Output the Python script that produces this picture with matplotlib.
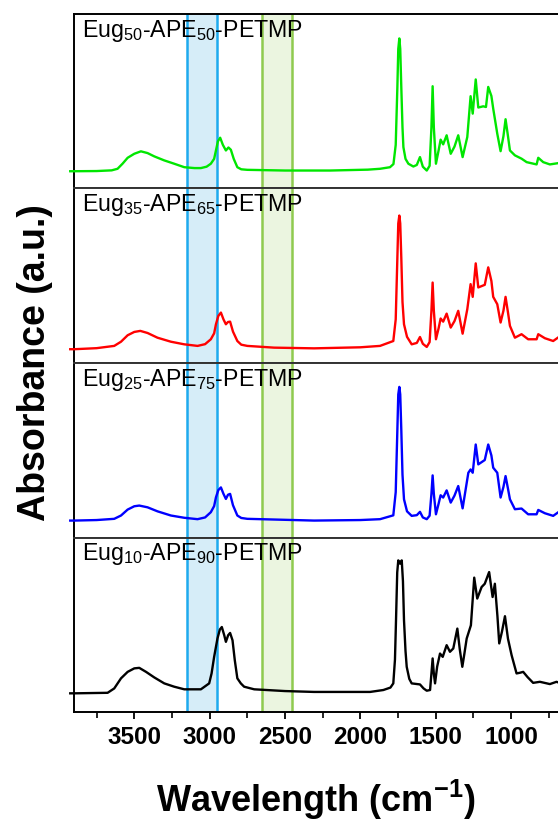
import matplotlib
matplotlib.use('Agg')
import matplotlib.pyplot as plt
from matplotlib.ticker import MultipleLocator

plt.rcParams['font.family'] = ['Liberation Sans', 'DejaVu Sans']
plt.rcParams['mathtext.fontset'] = 'custom'
plt.rcParams['mathtext.rm'] = 'Liberation Sans'
plt.rcParams['mathtext.it'] = 'Liberation Sans:italic'
plt.rcParams['mathtext.bf'] = 'Liberation Sans:bold'

# ---------------- data ----------------
panel_labels = [r'Eug$_{50}$-APE$_{50}$-PETMP',
                r'Eug$_{35}$-APE$_{65}$-PETMP',
                r'Eug$_{25}$-APE$_{75}$-PETMP',
                r'Eug$_{10}$-APE$_{90}$-PETMP']

# (wavenumber cm-1, absorbance normalised to panel height)
green_pts = [
    (3925, 0.099), (3898, 0.099), (3750, 0.100), (3650, 0.104), (3611, 0.113),
    (3578, 0.142), (3544, 0.176), (3500, 0.199), (3456, 0.213), (3412, 0.203),
    (3367, 0.184), (3301, 0.161), (3235, 0.142), (3168, 0.122), (3100, 0.117),
    (3058, 0.117), (3020, 0.125), (2992, 0.142), (2970, 0.170), (2958, 0.218),
    (2945, 0.270), (2930, 0.291), (2912, 0.250), (2892, 0.218), (2875, 0.235),
    (2859, 0.222), (2840, 0.170), (2816, 0.122), (2790, 0.110), (2750, 0.107),
    (2500, 0.103), (2200, 0.103), (1950, 0.108), (1869, 0.113), (1803, 0.122),
    (1780, 0.140), (1765, 0.250), (1754, 0.582), (1748, 0.800), (1741, 0.860),
    (1735, 0.800), (1728, 0.582), (1720, 0.350), (1714, 0.237), (1700, 0.170),
    (1681, 0.142), (1648, 0.126), (1625, 0.135), (1604, 0.180), (1585, 0.125),
    (1559, 0.103), (1540, 0.130), (1528, 0.350), (1520, 0.586), (1512, 0.350),
    (1498, 0.142), (1480, 0.220), (1467, 0.280), (1450, 0.253), (1427, 0.305),
    (1400, 0.199), (1375, 0.240), (1350, 0.305), (1321, 0.180), (1290, 0.295),
    (1268, 0.529), (1254, 0.429), (1234, 0.625), (1217, 0.464), (1184, 0.471),
    (1166, 0.467), (1151, 0.582), (1130, 0.530), (1118, 0.458), (1091, 0.314),
    (1069, 0.214), (1050, 0.300), (1036, 0.397), (1020, 0.300), (1007, 0.218),
    (974, 0.190), (930, 0.171), (896, 0.151), (830, 0.138), (819, 0.176),
    (786, 0.151), (742, 0.138), (689, 0.145)]

red_pts = [
    (3925, 0.079), (3898, 0.079), (3750, 0.085), (3633, 0.098), (3588, 0.122),
    (3544, 0.159), (3500, 0.178), (3460, 0.184), (3412, 0.172), (3346, 0.145),
    (3257, 0.122), (3168, 0.107), (3080, 0.098), (3030, 0.108), (2992, 0.136),
    (2970, 0.170), (2958, 0.222), (2942, 0.270), (2925, 0.289), (2908, 0.250),
    (2892, 0.222), (2878, 0.235), (2864, 0.237), (2845, 0.180), (2816, 0.126),
    (2790, 0.105), (2750, 0.098), (2572, 0.088), (2307, 0.084), (2000, 0.090),
    (1869, 0.098), (1781, 0.126), (1765, 0.250), (1754, 0.605), (1748, 0.800),
    (1741, 0.845), (1735, 0.800), (1728, 0.605), (1720, 0.350), (1710, 0.222),
    (1690, 0.150), (1659, 0.107), (1625, 0.115), (1604, 0.149), (1585, 0.110),
    (1559, 0.092), (1540, 0.120), (1528, 0.300), (1520, 0.461), (1512, 0.300),
    (1498, 0.136), (1480, 0.200), (1467, 0.255), (1450, 0.237), (1427, 0.283),
    (1400, 0.203), (1375, 0.240), (1350, 0.299), (1321, 0.168), (1290, 0.308),
    (1268, 0.452), (1254, 0.379), (1234, 0.571), (1217, 0.433), (1174, 0.448),
    (1151, 0.548), (1130, 0.470), (1118, 0.379), (1091, 0.337), (1069, 0.232),
    (1050, 0.300), (1036, 0.379), (1020, 0.290), (1007, 0.213), (974, 0.145),
    (930, 0.165), (886, 0.136), (830, 0.136), (819, 0.165), (775, 0.142),
    (720, 0.126), (689, 0.145)]

blue_pts = [
    (3925, 0.097), (3898, 0.097), (3750, 0.100), (3633, 0.107), (3588, 0.126),
    (3544, 0.160), (3500, 0.179), (3467, 0.183), (3412, 0.173), (3346, 0.150),
    (3257, 0.126), (3168, 0.113), (3080, 0.105), (3030, 0.115), (2992, 0.145),
    (2970, 0.180), (2958, 0.230), (2942, 0.272), (2925, 0.287), (2908, 0.250),
    (2892, 0.221), (2878, 0.245), (2864, 0.250), (2845, 0.185), (2816, 0.126),
    (2790, 0.112), (2750, 0.107), (2307, 0.097), (2000, 0.100), (1869, 0.105),
    (1781, 0.127), (1765, 0.260), (1754, 0.619), (1748, 0.820), (1741, 0.863),
    (1735, 0.820), (1728, 0.619), (1720, 0.360), (1710, 0.219), (1690, 0.150),
    (1659, 0.124), (1625, 0.128), (1604, 0.147), (1585, 0.115), (1559, 0.105),
    (1540, 0.125), (1528, 0.250), (1520, 0.356), (1512, 0.250), (1498, 0.133),
    (1480, 0.195), (1467, 0.242), (1450, 0.229), (1427, 0.270), (1400, 0.200),
    (1375, 0.240), (1350, 0.295), (1321, 0.167), (1300, 0.280), (1283, 0.371),
    (1268, 0.390), (1254, 0.371), (1234, 0.533), (1217, 0.419), (1174, 0.444),
    (1151, 0.533), (1130, 0.470), (1118, 0.400), (1091, 0.371), (1069, 0.229),
    (1050, 0.290), (1036, 0.352), (1020, 0.280), (1007, 0.219), (974, 0.162),
    (930, 0.166), (886, 0.133), (830, 0.133), (819, 0.158), (775, 0.139),
    (720, 0.124), (689, 0.143)]

black_pts = [
    (3925, 0.107), (3898, 0.107), (3677, 0.110), (3633, 0.135), (3588, 0.193),
    (3544, 0.230), (3500, 0.250), (3467, 0.253), (3422, 0.230), (3367, 0.198),
    (3301, 0.164), (3235, 0.145), (3168, 0.130), (3058, 0.130), (3003, 0.164),
    (2987, 0.221), (2970, 0.316), (2948, 0.421), (2932, 0.473), (2919, 0.487),
    (2903, 0.440), (2892, 0.402), (2877, 0.440), (2864, 0.453), (2848, 0.411),
    (2833, 0.297), (2816, 0.193), (2793, 0.164), (2771, 0.145), (2704, 0.130),
    (2500, 0.120), (2307, 0.115), (1935, 0.115), (1847, 0.126), (1800, 0.140),
    (1781, 0.164), (1770, 0.300), (1763, 0.526), (1755, 0.800), (1748, 0.869),
    (1736, 0.850), (1725, 0.869), (1717, 0.750), (1710, 0.526), (1700, 0.350),
    (1692, 0.259), (1675, 0.190), (1659, 0.164), (1604, 0.158), (1580, 0.135),
    (1559, 0.122), (1537, 0.126), (1528, 0.220), (1520, 0.307), (1512, 0.220),
    (1504, 0.164), (1490, 0.260), (1471, 0.335), (1453, 0.316), (1427, 0.383),
    (1405, 0.345), (1383, 0.364), (1356, 0.478), (1340, 0.360), (1323, 0.259),
    (1310, 0.330), (1294, 0.421), (1266, 0.497), (1244, 0.770), (1224, 0.650),
    (1195, 0.716), (1174, 0.735), (1145, 0.802), (1122, 0.659), (1107, 0.735),
    (1090, 0.550), (1078, 0.393), (1060, 0.460), (1040, 0.549), (1020, 0.420),
    (996, 0.326), (963, 0.221), (940, 0.225), (919, 0.230), (890, 0.200),
    (853, 0.167), (808, 0.173), (742, 0.160), (698, 0.173), (688, 0.170)]

wn_g, abs_g = zip(*green_pts)
wn_r, abs_r = zip(*red_pts)
wn_b, abs_b = zip(*blue_pts)
wn_k, abs_k = zip(*black_pts)

series = [(wn_g, abs_g, '#00e600'),
          (wn_r, abs_r, '#ff0000'),
          (wn_b, abs_b, '#0000ff'),
          (wn_k, abs_k, '#000000')]

blue_band = (3150, 2950)
green_band = (2650, 2450)
xticks = [3500, 3000, 2500, 2000, 1500, 1000]
xtick_labels = ['3500', '3000', '2500', '2000', '1500', '1000']

# ---------------- figure ----------------
fig = plt.figure(figsize=(5.58, 8.21), dpi=100)
left = 74 / 558
right = 1.0
bottom = 1 - 712 / 821
top = 1 - 14 / 821
h = (top - bottom) / 4

axes = []
for i, ((wn, ab, col), lab) in enumerate(zip(series, panel_labels)):
    ax = fig.add_axes([left, top - (i + 1) * h, right - left, h])
    axes.append(ax)
    ax.set_xlim(3900, 688)
    ax.set_ylim(0, 1)
    for (a, b), fc, ec in [(blue_band, '#d6edf8', '#1eaaee'),
                           (green_band, '#ebf5e0', '#8fca4f')]:
        ax.axvspan(a, b, color=fc, lw=0, zorder=0)
        ax.axvline(a, color=ec, lw=1.8, zorder=1)
        ax.axvline(b, color=ec, lw=1.8, zorder=1)
    ax.plot(wn, ab, color=col, lw=1.7, zorder=3, clip_on=False,
            solid_joinstyle='round')
    ax.text(0.017, 0.978, lab, transform=ax.transAxes, ha='left', va='top',
            fontsize=16.7, zorder=5)
    ax.spines['right'].set_visible(False)
    for s in ['left', 'top', 'bottom']:
        ax.spines[s].set_linewidth(1.4)
    ax.spines['left'].set_color('black')
    ax.spines['top'].set_color('#333333' if i > 0 else 'black')
    ax.spines['bottom'].set_color('#333333' if i < 3 else 'black')
    ax.tick_params(left=False, labelleft=False)
    if i < 3:
        ax.tick_params(bottom=False, labelbottom=False)

axb = axes[-1]
axb.set_xticks(xticks, labels=xtick_labels, fontweight='bold')
axb.xaxis.set_minor_locator(MultipleLocator(250))
axb.tick_params(axis='x', which='major', direction='out', length=5,
                width=1.3, labelsize=17.5, pad=5)
axb.tick_params(axis='x', which='minor', direction='out', length=4, width=1.2)
axb.set_xlabel(r'Wavelength (cm$^{\mathbf{-1}}$)', fontsize=26,
               fontweight='bold', labelpad=21)

fig.text(35 / 558, (top + bottom) / 2, 'Absorbance (a.u.)', rotation=90,
         ha='center', va='center', fontsize=27, fontweight='bold')

fig.savefig('out.png', dpi=100)
